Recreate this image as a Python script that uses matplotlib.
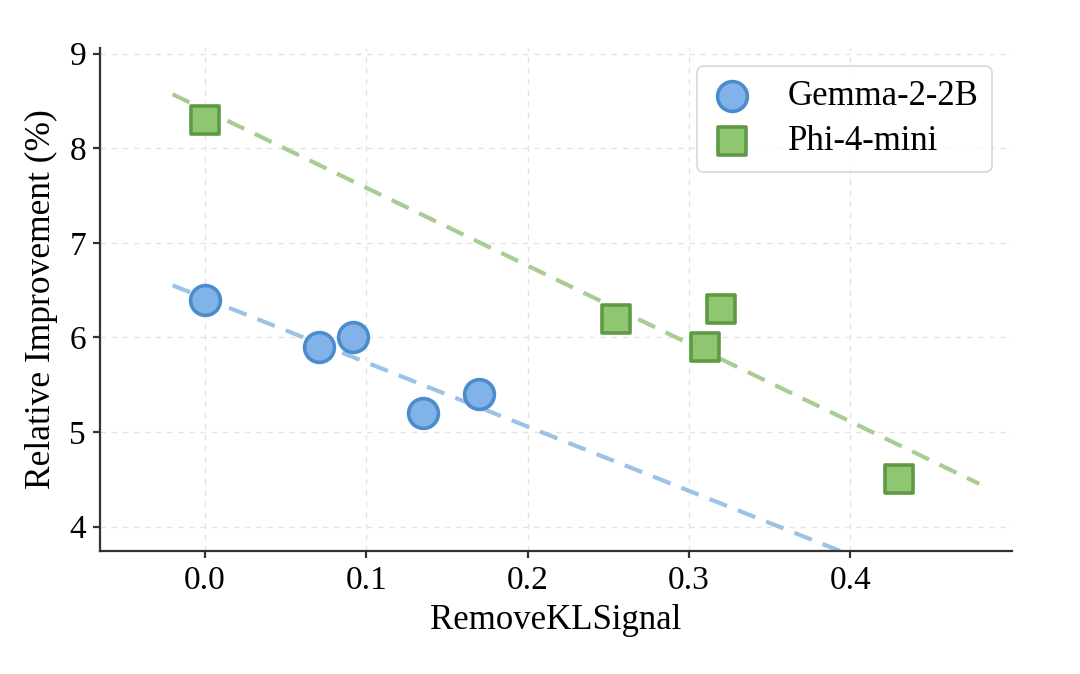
import numpy as np
import matplotlib
matplotlib.use("Agg")
import matplotlib.pyplot as plt

plt.rcParams['font.family'] = ['Liberation Serif', 'DejaVu Serif']
plt.rcParams['mathtext.fontset'] = 'stix'

# ---------- data -----------------------------
gemma_x = [0.0, 0.071, 0.092, 0.135, 0.170]
gemma_y = [6.4, 5.9, 6.0, 5.2, 5.4]
phi_x = [0.0, 0.255, 0.310, 0.320, 0.430]
phi_y = [8.3, 6.2, 5.9, 6.3, 4.5]

fit_range = [-0.02, 0.48]

blue_face, blue_edge = "#82b3e8", "#4a8ccc"
green_face, green_edge = "#90c670", "#5e9a44"

fig = plt.figure(figsize=(10.8, 6.74), dpi=100)
ax = fig.add_axes([0.0926, 0.182, 0.844, 0.747])

xs = np.linspace(fit_range[0], fit_range[1], 50)
for x, y, c in [(gemma_x, gemma_y, "#9cc2e6"), (phi_x, phi_y, "#a9cc92")]:
    m, b = np.polyfit(x, y, 1)
    ax.plot(xs, m * xs + b, ls=(0, (4.5, 2.8)), color=c, lw=3, zorder=2)

ax.scatter(gemma_x, gemma_y, s=460, marker='o', facecolor=blue_face,
           edgecolor=blue_edge, linewidth=2.6, zorder=3, label="Gemma-2-2B")
ax.scatter(phi_x, phi_y, s=420, marker='s', facecolor=green_face,
           edgecolor=green_edge, linewidth=2.6, zorder=3, label="Phi-4-mini")

ax.set_xlim(-0.065, 0.5)
ax.set_ylim(3.74, 9.06)
ax.set_xticks([0.0, 0.1, 0.2, 0.3, 0.4])
ax.set_yticks([4, 5, 6, 7, 8, 9])

ax.grid(True, ls=(0, (4, 4)), color="#e3e3e3", lw=1.0, zorder=0)
ax.set_axisbelow(True)
for s in ["top", "right"]:
    ax.spines[s].set_visible(False)
for s in ["left", "bottom"]:
    ax.spines[s].set_color("#333333")
    ax.spines[s].set_linewidth(1.6)
ax.tick_params(labelsize=24, length=5, width=1.6, color="#333333", pad=5)

ax.set_xlabel("RemoveKLSignal", fontsize=25, labelpad=6)
ax.set_ylabel("Relative Improvement (%)", fontsize=25.5, labelpad=8)

leg = ax.legend(loc="upper right", fontsize=25, frameon=True, borderpad=0.4,
                handlelength=1.2, handletextpad=1.0, labelspacing=0.35,
                borderaxespad=0.0, bbox_to_anchor=(0.979, 0.9635))
leg.get_frame().set_edgecolor("#cccccc")
leg.get_frame().set_linewidth(1.2)

fig.savefig("out.png", dpi=100)
